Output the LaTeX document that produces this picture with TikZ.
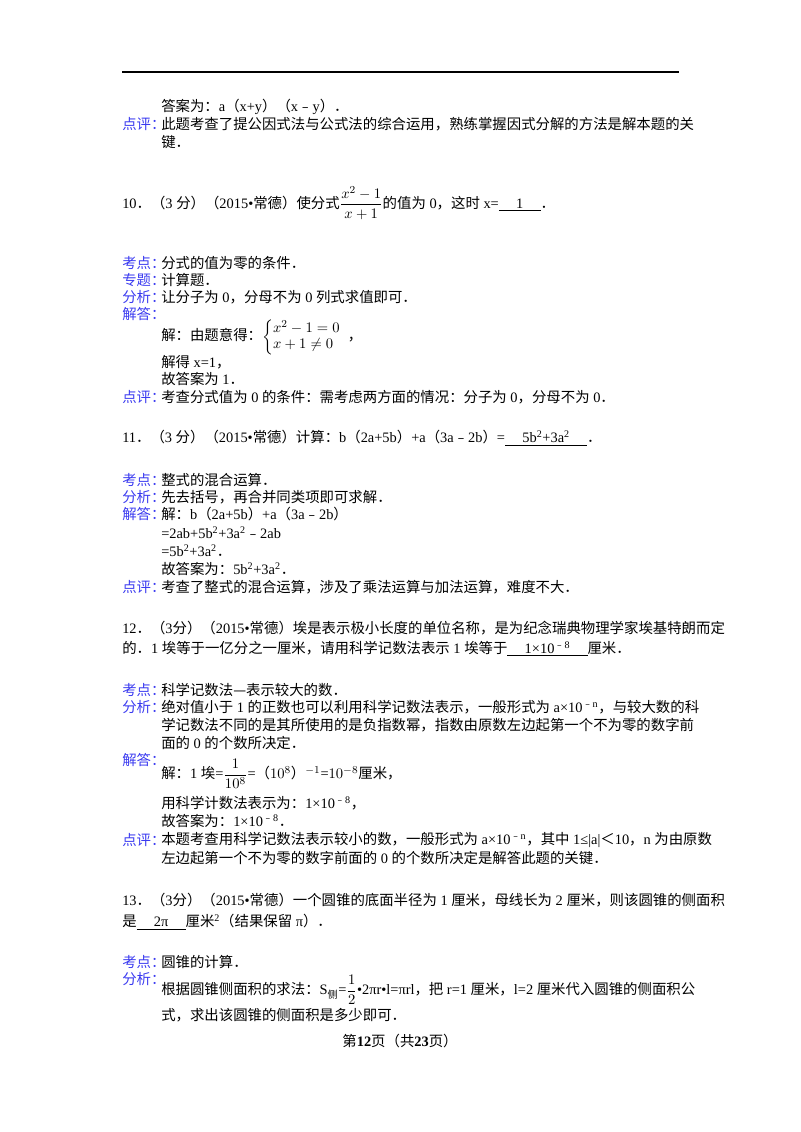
\documentclass[tikz,border=0pt]{standalone}
\usepackage{amsmath}
\usepackage{fontspec}
\setmainfont{Liberation Serif}
\newfontfamily\cjkf{Noto Sans CJK SC}
\usetikzlibrary{positioning}
\definecolor{lblblue}{HTML}{3A3AF0}
% switch fonts between latin and CJK characters
\makeatletter
\XeTeXinterchartokenstate=1
\newXeTeXintercharclass\cjkclass
\count@="4E00 \loop\XeTeXcharclass\count@=\cjkclass\advance\count@ 1 \ifnum\count@<"A000\repeat
\count@="3000 \loop\XeTeXcharclass\count@=\cjkclass\advance\count@ 1 \ifnum\count@<"3040\repeat
\count@="FE30 \loop\XeTeXcharclass\count@=\cjkclass\advance\count@ 1 \ifnum\count@<"FE70\repeat
\count@="FF00 \loop\XeTeXcharclass\count@=\cjkclass\advance\count@ 1 \ifnum\count@<"FFF0\repeat
\XeTeXcharclass"2014=\cjkclass
\makeatother
\XeTeXinterchartoks 0 \cjkclass = {\cjkf}
\XeTeXinterchartoks 4095 \cjkclass = {\cjkf}
\XeTeXinterchartoks \cjkclass 0 = {\rmfamily}
\XeTeXinterchartoks \cjkclass 4095 = {\rmfamily}
\newcommand{\blank}[1]{\underline{\hspace{1.2em}#1\hspace{1.2em}}}
\begin{document}
\begin{tikzpicture}[
  x=0.75pt, y=-0.75pt,
  txt/.style={
    anchor=west,
    inner sep=0pt,
    font=\fontsize{10.8}{12}\selectfont,
  },
  lbl/.style={
    txt,
    text=lblblue,
  },
  rule/.style={
    line width=0.8pt,
  }]
  \useasboundingbox (0,0) rectangle (800,1132);
  \coordinate (ruleL) at (122,72);
  \coordinate (ruleR) at (679,72);
  \draw[rule] (ruleL) -- (ruleR);
  % end of question 9
  \node[txt] (ans9) at (161,107) {答案为：a（x+y）（x﹣y）．};
  \node[lbl] (dp9) at (122,124) {点评：};
  \node[txt] (dp9a) at (161,124) {此题考查了提公因式法与公式法的综合运用，熟练掌握因式分解的方法是解本题的关};
  \node[txt] (dp9b) at (161,142) {键．};
  % question 10
  \node[txt] (q10) at (122,203) {10．（3 分）（2015•常德）使分式$\dfrac{x^2-1}{x+1}$的值为 0，这时 x=\blank{1}．};
  \node[lbl] (kd10) at (122,263) {考点：};
  \node[txt] (kd10a) at (161,263) {分式的值为零的条件．};
  \node[lbl] (zt10) at (122,280) {专题：};
  \node[txt] (zt10a) at (161,280) {计算题．};
  \node[lbl] (fx10) at (122,297) {分析：};
  \node[txt] (fx10a) at (161,297) {让分子为 0，分母不为 0 列式求值即可．};
  \node[lbl] (jd10) at (122,314) {解答：};
  \node[txt] (jd10a) at (161,337) {解：由题意得：$\left\{\begin{array}{@{}l}x^2-1=0\\ x+1\neq0\end{array}\right.$，};
  \node[txt] (jd10b) at (161,362) {解得 x=1，};
  \node[txt] (jd10c) at (161,379) {故答案为 1．};
  \node[lbl] (dp10) at (122,397) {点评：};
  \node[txt] (dp10a) at (161,397) {考查分式值为 0 的条件：需考虑两方面的情况：分子为 0，分母不为 0．};
  % question 11
  \node[txt] (q11) at (122,438) {11．（3 分）（2015•常德）计算：b（2a+5b）+a（3a﹣2b）=\blank{5b\textsuperscript{2}+3a\textsuperscript{2}}．};
  \node[lbl] (kd11) at (122,480) {考点：};
  \node[txt] (kd11a) at (161,480) {整式的混合运算．};
  \node[lbl] (fx11) at (122,497) {分析：};
  \node[txt] (fx11a) at (161,497) {先去括号，再合并同类项即可求解．};
  \node[lbl] (jd11) at (122,514) {解答：};
  \node[txt] (jd11a) at (161,514) {解：b（2a+5b）+a（3a﹣2b）};
  \node[txt] (jd11b) at (161,533) {=2ab+5b\textsuperscript{2}+3a\textsuperscript{2}﹣2ab};
  \node[txt] (jd11c) at (161,551) {=5b\textsuperscript{2}+3a\textsuperscript{2}．};
  \node[txt] (jd11d) at (161,569) {故答案为：5b\textsuperscript{2}+3a\textsuperscript{2}．};
  \node[lbl] (dp11) at (122,587) {点评：};
  \node[txt] (dp11a) at (161,587) {考查了整式的混合运算，涉及了乘法运算与加法运算，难度不大．};
  % question 12
  \node[txt] (q12a) at (122,628) {12．（3分）（2015•常德）埃是表示极小长度的单位名称，是为纪念瑞典物理学家埃基特朗而定};
  \node[txt] (q12b) at (122,649) {的．1 埃等于一亿分之一厘米，请用科学记数法表示 1 埃等于\blank{1×10\textsuperscript{﹣8}}厘米．};
  \node[lbl] (kd12) at (122,690) {考点：};
  \node[txt] (kd12a) at (161,690) {科学记数法—表示较大的数．};
  \node[lbl] (fx12) at (122,707) {分析：};
  \node[txt] (fx12a) at (161,707) {绝对值小于 1 的正数也可以利用科学记数法表示，一般形式为 a×10\textsuperscript{﹣n}，与较大数的科};
  \node[txt] (fx12b) at (161,725) {学记数法不同的是其所使用的是负指数幂，指数由原数左边起第一个不为零的数字前};
  \node[txt] (fx12c) at (161,743) {面的 0 的个数所决定．};
  \node[lbl] (jd12) at (122,760) {解答：};
  \node[txt] (jd12a) at (161,774) {解：1 埃=$\dfrac{1}{10^8}$=（$10^8$）$^{-1}$=$10^{-8}$厘米，};
  \node[txt] (jd12b) at (161,803) {用科学计数法表示为：1×10\textsuperscript{﹣8}，};
  \node[txt] (jd12c) at (161,821) {故答案为：1×10\textsuperscript{﹣8}．};
  \node[lbl] (dp12) at (122,840) {点评：};
  \node[txt] (dp12a) at (161,840) {本题考查用科学记数法表示较小的数，一般形式为 a×10\textsuperscript{﹣n}，其中 1≤|a|＜10，n 为由原数};
  \node[txt] (dp12b) at (161,858) {左边起第一个不为零的数字前面的 0 的个数所决定是解答此题的关键．};
  % question 13
  \node[txt] (q13a) at (122,900) {13．（3分）（2015•常德）一个圆锥的底面半径为 1 厘米，母线长为 2 厘米，则该圆锥的侧面积};
  \node[txt] (q13b) at (122,922) {是\blank{2π}厘米\textsuperscript{2}（结果保留 π）．};
  \node[lbl] (kd13) at (122,962) {考点：};
  \node[txt] (kd13a) at (161,962) {圆锥的计算．};
  \node[lbl] (fx13) at (122,979) {分析：};
  \node[txt] (fx13a) at (161,990) {根据圆锥侧面积的求法：S\textsubscript{侧}=$\dfrac{1}{2}$•2πr•l=πrl，把 r=1 厘米，l=2 厘米代入圆锥的侧面积公};
  \node[txt] (fx13b) at (161,1015) {式，求出该圆锥的侧面积是多少即可．};
  % footer
  \node[txt, anchor=center] (foot) at (400,1041) {第\textbf{12}页（共\textbf{23}页）};
\end{tikzpicture}
\end{document}
